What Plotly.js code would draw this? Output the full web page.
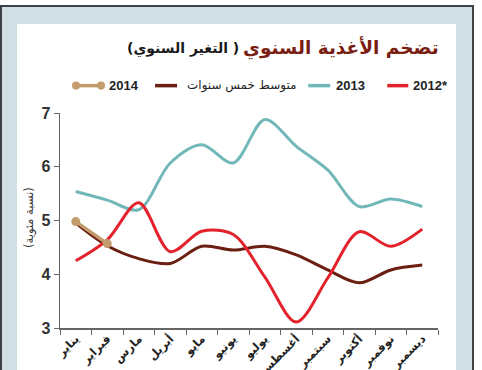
<!DOCTYPE html>
<html>
<head>
<meta charset="utf-8">
<script src="https://cdn.plot.ly/plotly-3.0.1.min.js"></script>
<style>
  html, body { margin:0; padding:0; background:#ffffff; width:482px; height:370px; overflow:hidden; }
  #frame { position:absolute; left:0; top:5px; width:470px; height:370px; background:#cfdfe3;
           border-top:2px solid #3c4144; border-left:2px solid #3c4144; border-right:2px solid #3c4144; }
  #panel { position:absolute; left:17px; top:24px; width:439px; height:360px; background:#ffffff; }
  #chart { position:absolute; left:0; top:0; width:482px; height:370px; }
</style>
</head>
<body>
<div id="frame"></div>
<div id="panel"></div>
<div id="chart"></div>
<script>
const months = ["يناير","فبراير","مارس","أبريل","مايو","يونيو","يوليو","أغسطس","سبتمبر","أكتوبر","نوفمبر","ديسمبر"];
const y2012 = [4.25, 4.64, 5.33, 4.42, 4.80, 4.74, 3.95, 3.11, 3.93, 4.79, 4.52, 4.84];
const y2013 = [5.54, 5.38, 5.20, 6.07, 6.41, 6.07, 6.88, 6.38, 5.94, 5.26, 5.40, 5.26];
const yAvg  = [4.95, 4.53, 4.29, 4.20, 4.52, 4.45, 4.52, 4.36, 4.08, 3.84, 4.08, 4.17];
const y2014 = [4.98, 4.57];
const yTicks = [3, 4, 5, 6, 7];
const names = ["2012*", "2013", "متوسط خمس سنوات", "2014"];

const C_RED = "#e4222b", C_TEAL = "#72b8b9", C_AVG = "#6b1e12", C_TAN = "#c49b6d";

// pixel geometry of plot area
const L = 60, R = 437.7, T = 113.3, B = 327.7;
const px = x => (x - L) / (R - L);
const py = y => (B - y) / (B - T);

const ARFONT = "DejaVu Sans";
const NUMFONT = "Liberation Sans, Arial, sans-serif";

const traces = [
  {x: months, y: y2013, type:"scatter", mode:"lines", name:names[1],
   line:{color:C_TEAL, width:3, shape:"spline", smoothing:0.9}},
  {x: months, y: yAvg, type:"scatter", mode:"lines", name:names[2],
   line:{color:C_AVG, width:3, shape:"spline", smoothing:0.9}},
  {x: months, y: y2012, type:"scatter", mode:"lines", name:names[0],
   line:{color:C_RED, width:3, shape:"spline", smoothing:0.9}},
  {x: months.slice(0, y2014.length), y: y2014, type:"scatter", mode:"lines+markers", name:names[3],
   line:{color:C_TAN, width:3.5}, marker:{color:C_TAN, size:9}}
];

// manual legend
const legendItems = [
  {name:names[3], color:C_TAN, x0:76, x1:101, tx:107, markers:true},
  {name:names[2], color:C_AVG, x0:155, x1:177, tx:185, ar:true},
  {name:names[1], color:C_TEAL, x0:308, x1:330, tx:334},
  {name:names[0], color:C_RED, x0:387, x1:408, tx:411}
];
const LY = 86;
const shapes = [];
const annotations = [];
legendItems.forEach(it => {
  shapes.push({type:"line", xref:"paper", yref:"paper", x0:px(it.x0), x1:px(it.x1), y0:py(LY), y1:py(LY),
               line:{color:it.color, width:3.5}});
  if (it.markers) {
    [it.x0, it.x1].forEach(cx => shapes.push({type:"circle", xref:"paper", yref:"paper",
      x0:px(cx-4), x1:px(cx+4), y0:py(LY+4), y1:py(LY-4), fillcolor:it.color, line:{width:0}}));
  }
  annotations.push({xref:"paper", yref:"paper", x:px(it.tx), y:py(LY), xanchor:"left", yanchor:"middle",
    showarrow:false, text: it.ar ? "\u200F" + it.name + "\u200F" : "<b>" + it.name + "</b>",
    font:{family: it.ar ? ARFONT : NUMFONT, size: it.ar ? 12 : 13, color:"#222"}});
});

// title
annotations.push({xref:"paper", yref:"paper", x:px(441), y:py(48), xanchor:"right", yanchor:"middle",
  showarrow:false, text:"<b>\u200Fتضخم الأغذية السنوي\u200F</b>", font:{family:ARFONT, size:18.5, color:"#7a1d12"}});
annotations.push({xref:"paper", yref:"paper", x:px(241), y:py(49), xanchor:"right", yanchor:"middle",
  showarrow:false, text:"<b>\u200F( التغير السنوي)\u200F</b>", font:{family:ARFONT, size:14, color:"#1a1a1a"}});
// y axis title
annotations.push({xref:"paper", yref:"paper", x:px(30), y:py(217), xanchor:"center", yanchor:"middle",
  showarrow:false, textangle:-90, text:"\u200F(نسبة مئوية)\u200F", font:{family:ARFONT, size:11.5, color:"#333"}});

const layout = {
  width:482, height:370,
  margin:{l:L, r:482-R, t:T, b:370-B, pad:0},
  paper_bgcolor:"rgba(0,0,0,0)", plot_bgcolor:"rgba(0,0,0,0)",
  showlegend:false,
  xaxis:{type:"category", range:[-0.5, 11.5], tickson:"boundaries", ticks:"outside", ticklen:5,
         tickcolor:"#666", showline:true, linecolor:"#666", linewidth:1.5, showgrid:false, zeroline:false,
         tickangle:-45, ticklabelstandoff:-2,
         tickfont:{family:ARFONT, size:11.5, color:"#222", weight:"bold"}, fixedrange:true},
  yaxis:{range:[3,7], tickvals:yTicks, ticktext:yTicks.map(v=>"<b>"+v+"</b>"), ticks:"outside", ticklen:5,
         tickcolor:"#666", showline:true, linecolor:"#666", linewidth:1.5, showgrid:false, zeroline:false,
         tickfont:{family:NUMFONT, size:16, color:"#333"}, fixedrange:true},
  shapes:shapes,
  annotations:annotations
};
Plotly.newPlot("chart", traces, layout, {displayModeBar:false, staticPlot:true});
</script>
</body>
</html>
